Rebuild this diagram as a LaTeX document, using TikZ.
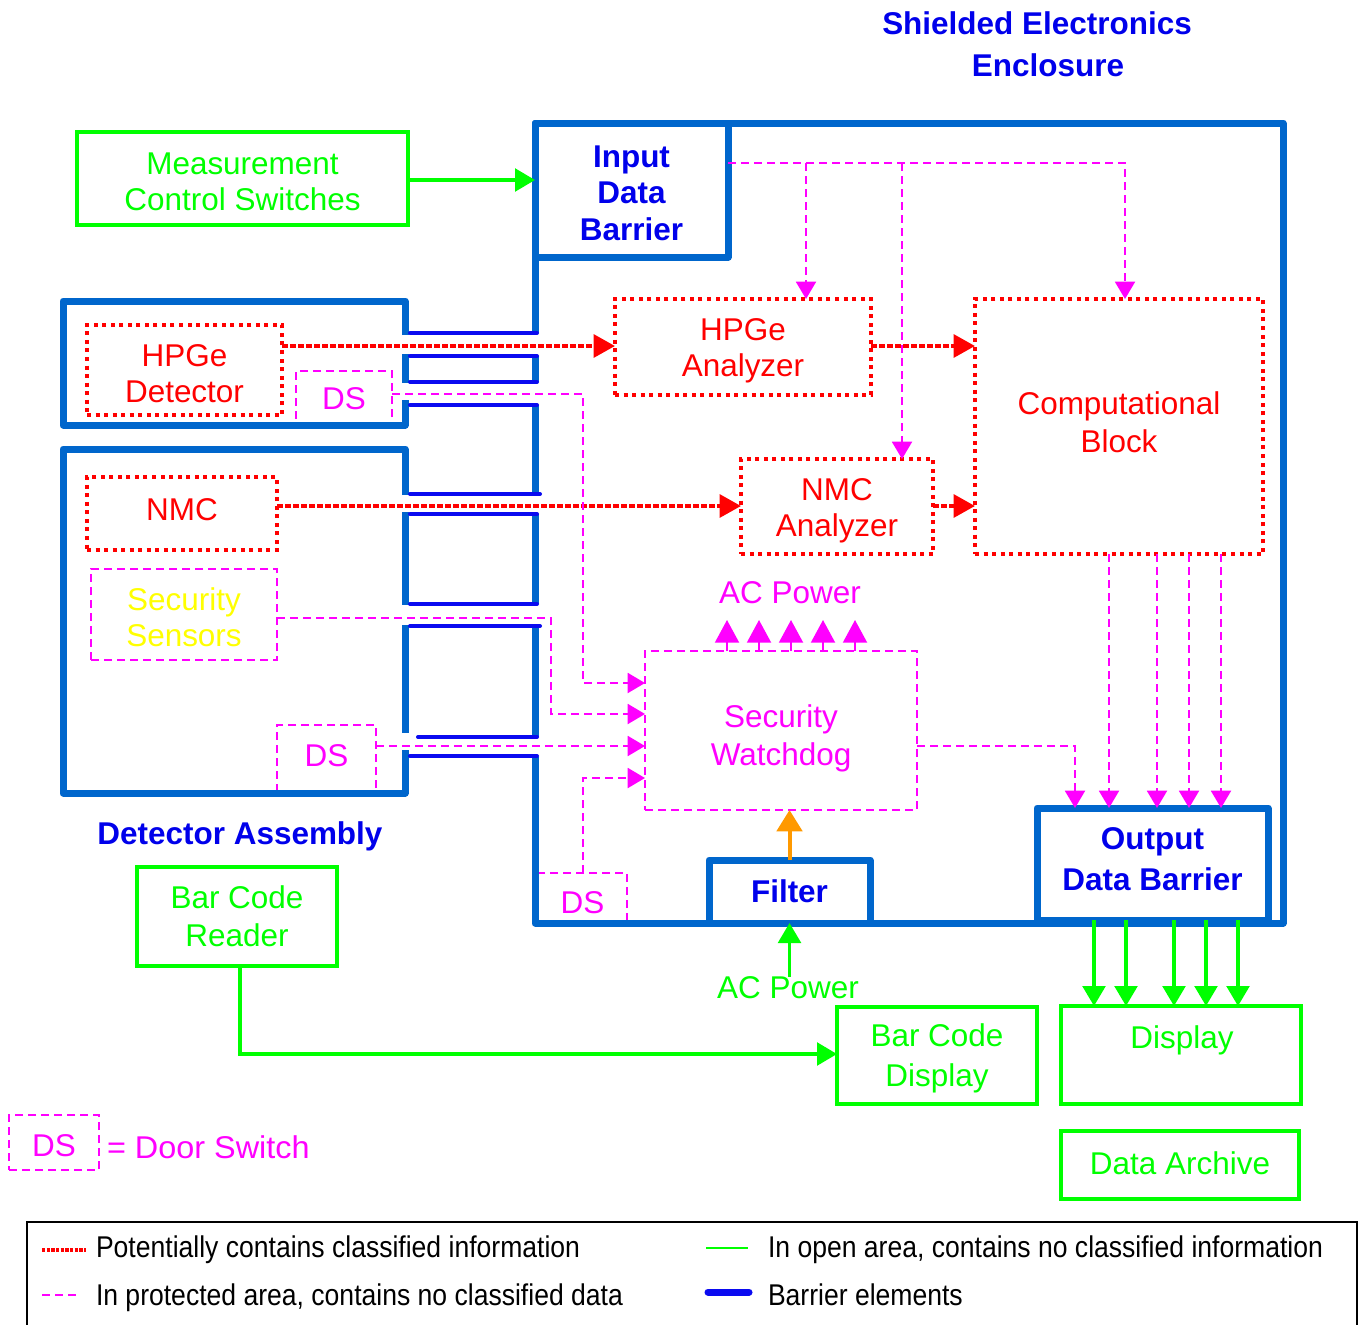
\documentclass[tikz,border=0pt]{standalone}
\usepackage{fontspec}
\setmainfont{Liberation Sans}
\usepackage{graphicx}
\usetikzlibrary{arrows.meta}
\definecolor{barblue}{RGB}{0,102,204}
\definecolor{slotblue}{RGB}{10,10,240}
\definecolor{txtblue}{RGB}{0,0,235}
\definecolor{grn}{RGB}{0,255,0}
\definecolor{mag}{RGB}{255,0,255}
\definecolor{rd}{RGB}{255,0,0}
\definecolor{org}{RGB}{255,153,0}
\definecolor{ylw}{RGB}{255,255,0}
\newcommand\fs[1]{\fontsize{23.6pt}{#1}\selectfont}
\newcommand\fsb[1]{\bfseries\fontsize{23.6pt}{#1}\selectfont}
\newcommand\leg{\fontsize{22.5pt}{27pt}\selectfont}
% box node (#1) from (#2,#3) to (#4,#5), style #6, text #7 set #8 px lower than the centre
\newcommand\bx[8]{%
  \node[#6, minimum width={(#4-#2)*0.75pt}, minimum height={(#5-#3)*0.75pt}] (#1) at ({(#2+#4)/2},{(#3+#5)/2}) {};
  \node[#6, draw=none] (#1t) at ({(#2+#4)/2},{(#3+#5)/2+#8}) {#7};}
\tikzset{
  base/.style={inner sep=0pt, outer sep=0pt, align=center, font={\fs{27pt}}},
  gbox/.style={base, draw=grn, line width=2.6pt, text=grn},
  rbox/.style={base, draw=rd, line width=3pt, dash pattern=on 3pt off 3.4pt, text=rd},
  mbox/.style={base, draw=mag, line width=1.5pt, dash pattern=on 6pt off 3.75pt, text=mag},
  bbox/.style={base, draw=barblue, line width=5.25pt, line join=round, text=txtblue, font={\fsb{27.4pt}}},
  barrier/.style={draw=barblue, line width=5.25pt, line join=round},
  slot/.style={draw=slotblue, line width=3pt, line cap=round},
  rline/.style={draw=rd, line width=3pt, dash pattern=on 4.5pt off 1.5pt},
  mline/.style={draw=mag, line width=1.5pt, dash pattern=on 6pt off 3.75pt},
  gline/.style={draw=grn, line width=2.6pt},
  tipR/.style={-{Triangle[length=16pt,width=17pt]}},
  tipM/.style={-{Triangle[length=13pt,width=15pt]}},
  tipA/.style={-{Triangle[length=17pt,width=18pt]}},
  tipG/.style={-{Triangle[length=15pt,width=17pt]}},
  txt/.style={inner sep=0pt, outer sep=0pt, align=center},
}
\begin{document}
\begin{tikzpicture}[x=0.75pt,y=-0.75pt]
\useasboundingbox (0,0) rectangle (1359,1324);
\fill[white] (0,0) rectangle (1359,1324);

% title
\node[txt, text=txtblue, font={\fsb{31.5pt}}] (title) at (1037,44) {Shielded Electronics\\\hspace*{16.5pt}Enclosure};

% dashed door switch boxes first (barriers overlap them)
\bx{ds1}{296}{371}{392}{425}{mbox}{DS}{1}
\bx{ds2}{277}{725}{376}{793}{mbox}{DS}{-3}
\bx{ds3}{538}{873}{627}{923}{mbox}{DS}{5}

% enclosure barrier
\draw[barrier] (535,333) -- (535,123) -- (1283,123) -- (1283,923) -- (535,923) -- (535,757);
\draw[barrier] (535,356) -- (535,382);
\draw[barrier] (535,405) -- (535,494);
\draw[barrier] (535,514) -- (535,604);
\draw[barrier] (535,626) -- (535,737);
% detector assembly barrier
\draw[barrier] (405,335) -- (405,301) -- (63,301) -- (63,425) -- (405,425) -- (405,400);
\draw[barrier] (405,354) -- (405,383);
\draw[barrier] (405,495) -- (405,449) -- (63,449) -- (63,793) -- (405,793) -- (405,750);
\draw[barrier] (405,512) -- (405,605);
\draw[barrier] (405,625) -- (405,733);
% slot lines
\foreach \ya/\xa/\xb in {333/410/537, 356/410/537, 382/410/537, 405/410/537, 494/410/540, 514/410/537, 604/410/537, 626/410/540, 737/418/537, 756/410/537}
  \draw[slot] (\xa,\ya) -- (\xb,\ya);

% boxes
\bx{msw}{77}{132}{408}{225}{gbox}{Measurement\\Control Switches}{3}
\bx{inb}{535}{123}{728}{257}{bbox}{Input\\Data\\Barrier}{3}
\bx{hdet}{87}{325}{282}{415}{rbox}{HPGe\\Detector}{4}
\bx{nmc}{87}{477}{277}{550}{rbox}{NMC}{-4}
\bx{sens}{91}{569}{277}{660}{mbox, text=ylw}{Security\\Sensors}{3}
\bx{hana}{615}{299}{871}{395}{rbox}{HPGe\\Analyzer}{4}
\bx{comp}{975}{299}{1263}{554}{rbox, font={\fs{28.5pt}}}{Computational\\Block}{-4}
\bx{nana}{741}{459}{933}{554}{rbox}{NMC\\Analyzer}{4}
\bx{wd}{645}{651}{917}{810}{mbox, font={\fs{28.5pt}}}{Security\\Watchdog}{8}
\bx{filt}{709}{860}{870}{923}{bbox}{Filter}{0}
\bx{outb}{1037}{808}{1268}{920}{bbox, font={\fsb{30.75pt}}}{Output\\Data Barrier}{-5}
\bx{bcr}{137}{867}{337}{966}{gbox, font={\fs{28.5pt}}}{Bar Code\\Reader}{0}
\bx{bcd}{837}{1007}{1037}{1104}{gbox, font={\fs{30pt}}}{Bar Code\\Display}{3}
\bx{disp}{1061}{1006}{1301}{1104}{gbox}{}{0}
\node[txt, text=grn, font={\fs{27pt}}] (dispt) at (1182,1040) {Display};
\bx{arch}{1061}{1131}{1299}{1199}{gbox}{Data Archive}{-2}

\node[txt, text=mag, font={\fs{27pt}}] (acm) at (790,593) {AC Power};
\node[txt, text=grn, font={\fs{27pt}}] (acg) at (788,988) {AC Power};
\node[txt, text=txtblue, font={\fsb{27pt}}] (da) at (240,836) {Detector Assembly};

% helper coordinates
\coordinate (y163a) at (806,163);
\coordinate (y163b) at (902,163);
\coordinate (y163c) at (1125,163);
\coordinate (r346) at (0,346);
\coordinate (r506) at (0,506);
\coordinate (g180) at (0,180);
\coordinate (m394) at (583,394);
\coordinate (m683) at (583,683);
\coordinate (m618) at (551,618);
\coordinate (m714) at (551,714);
\coordinate (m746) at (0,746);
\coordinate (m778) at (583,778);
\coordinate (m747) at (1075,746);
\coordinate (g1054) at (0,1054);
\coordinate (b240) at (240,0);

% green
\draw[gline,tipG] (msw.east |- g180) -- (inb.west |- g180);
\draw[gline,tipG] (b240 |- bcr.south) -- (b240 |- g1054) -- (bcd.west |- g1054);
\draw[gline,tipG] (filt.south |- acg.north) -- (filt.south);
\foreach \x in {1094,1126,1174,1206,1238} {
  \coordinate (gx) at (\x,0);
  \draw[gline,tipG] (gx |- outb.south) -- (gx |- disp.north);
}
% orange
\draw[draw=org, line width=3pt, -{Triangle[length=16pt,width=19pt]}] (filt.north) -- (filt.north |- wd.south);

% red
\draw[rline,tipR] (hdet.east |- r346) -- (hana.west |- r346);
\draw[rline,tipR] (hana.east |- r346) -- (comp.west |- r346);
\draw[rline,tipR] (nmc.east |- r506) -- (nana.west |- r506);
\draw[rline,tipR] (nana.east |- r506) -- (comp.west |- r506);

% magenta
\draw[mline,tipM] (inb.east |- y163c) -- (y163c) -- (y163c |- comp.north);
\draw[mline,tipM] (y163a) -- (y163a |- hana.north);
\draw[mline,tipM] (y163b) -- (y163b |- nana.north);
\draw[mline,tipM] (ds1.east |- m394) -- (m394) -- (m683) -- (wd.west |- m683);
\draw[mline,tipM] (sens.east |- m618) -- (m618) -- (m714) -- (wd.west |- m714);
\draw[mline,tipM] (ds2.east |- m746) -- (wd.west |- m746);
\draw[mline,tipM] (m778 |- ds3.north) -- (m778) -- (wd.west |- m778);
\draw[mline,tipM] (wd.east |- m747) -- (m747) -- (m747 |- outb.north);
\foreach \x in {1109,1157,1189,1221} {
  \coordinate (mx) at (\x,0);
  \draw[mline,tipM] (mx |- comp.south) -- (mx |- outb.north);
}
\foreach \x in {727,759,791,823,855} {
  \coordinate (ax) at (\x,620);
  \draw[draw=mag, line width=1.5pt, tipA] (ax |- wd.north) -- (ax);
}

% door switch legend
\bx{dsl}{9}{1115}{99}{1170}{mbox}{DS}{3}
\node[txt, anchor=west, text=mag, font={\fs{27pt}}] (dst) at (107,1147) {\scalebox{1.03}[1]{= Door Switch}};

% legend
\draw[line width=1.5pt] (27,1340) -- (27,1222) -- (1357,1222) -- (1357,1340);
\coordinate (la1) at (42,1250); \coordinate (lb1) at (86,1250);
\coordinate (la2) at (42,1295); \coordinate (lb2) at (80,1295);
\coordinate (la3) at (706,1248); \coordinate (lb3) at (748,1248);
\coordinate (la4) at (708,1292); \coordinate (lb4) at (749,1292);
\draw[draw=rd, line width=2.4pt, dash pattern=on 2.5pt off 1pt] (la1) -- (lb1);
\draw[mline] (la2) -- (lb2);
\draw[draw=grn, line width=1.2pt] (la3) -- (lb3);
\draw[draw=slotblue, line width=5.25pt, line cap=round] (la4) -- (lb4);
\node[txt, anchor=base west, font=\leg] (lt1) at (96,1257) {\scalebox{0.885}[1]{Potentially contains classified information}};
\node[txt, anchor=base west, font=\leg] (lt2) at (96,1305) {\scalebox{0.885}[1]{In protected area, contains no classified data}};
\node[txt, anchor=base west, font=\leg] (lt3) at (768,1257) {\scalebox{0.885}[1]{In open area, contains no classified information}};
\node[txt, anchor=base west, font=\leg] (lt4) at (768,1305) {\scalebox{0.885}[1]{Barrier elements}};
\end{tikzpicture}
\end{document}
